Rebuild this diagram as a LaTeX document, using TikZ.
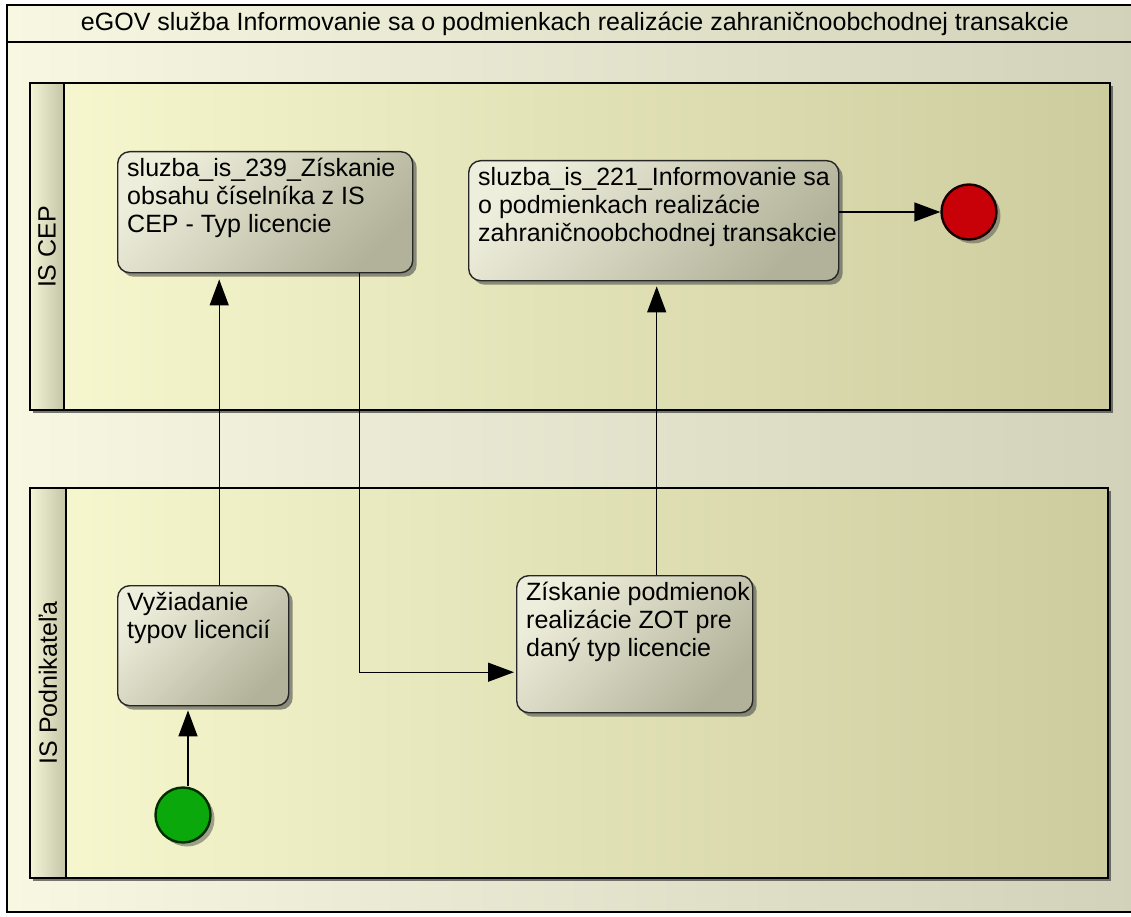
\documentclass[tikz,border=0pt]{standalone}
\usepackage{fontspec}
\setmainfont{Liberation Sans}
\usepackage{tikz}
\usetikzlibrary{arrows.meta,shadows}
\definecolor{canvasL}{HTML}{F7F7E2}
\definecolor{canvasR}{HTML}{D2D2BA}
\definecolor{poolL}{HTML}{F8F8D0}
\definecolor{poolR}{HTML}{CCCC9E}
\definecolor{bandL}{HTML}{F4F4D6}
\definecolor{bandR}{HTML}{C4C4A6}
\definecolor{taskL}{HTML}{EEEEDC}
\definecolor{taskR}{HTML}{B2B29A}
\definecolor{startG}{HTML}{0AA80A}
\definecolor{endR}{HTML}{C80008}
\tikzset{
  frame/.style={draw=black, line width=1.2pt, left color=canvasL, right color=canvasR},
  pool/.style={draw=black, line width=1.3pt, left color=poolL, right color=poolR,
    drop shadow={shadow xshift=3pt, shadow yshift=-3pt, opacity=.7, fill=black!75}},
  band/.style={draw=black, line width=1.3pt, left color=bandL, right color=bandR},
  task/.style={draw=black!85, line width=1.4pt, rounded corners=12pt, inner sep=0pt,
    top color=taskL, bottom color=taskR, shading angle=45, anchor=north west,
    drop shadow={shadow xshift=4pt, shadow yshift=-4pt, opacity=.6, fill=black!70}},
  tasktext/.style={anchor=north west, align=left, inner xsep=10pt, inner ysep=7pt,
    font=\fontsize{25}{28}\selectfont},
  lanetext/.style={rotate=90, font=\fontsize{25}{28}\selectfont},
  event/.style={circle, line width=2.4pt, minimum size=55pt, inner sep=0pt,
    drop shadow={shadow xshift=4pt, shadow yshift=-4pt, opacity=.5, fill=black!70}},
  flow/.style={draw, line width=1.4pt, -{Triangle[length=26pt,width=19pt]}},
}
\begin{document}
\begin{tikzpicture}[x=1pt,y=-1pt]
\useasboundingbox (0,0) rectangle (1131,917);
% canvas, title and lanes
\draw[frame] (7,5) rectangle (1140,912);
\draw[line width=1.2pt] (7,42) -- (1140,42);
\node[font=\fontsize{25}{28}\selectfont] (title) at (575,24) {eGOV služba Informovanie sa o podmienkach realizácie zahraničnoobchodnej transakcie};
\draw[pool] (30,83) rectangle (1110,410);
\draw[band] (30,83) rectangle (64,410);
\node[lanetext] (cepL) at (47,247) {IS CEP};
\draw[pool] (30,488) rectangle (1108,878);
\draw[band] (30,488) rectangle (66,878);
\node[lanetext] (podL) at (48,683) {IS Podnikateľa};

% tasks
\node[task, minimum width=295pt, minimum height=121pt] (getlist) at (117,151) {};
\node[tasktext] (getlistT) at (getlist.north west) {sluzba\_is\_239\_Získanie\\obsahu číselníka z IS\\CEP - Typ licencie};
\node[task, minimum width=370pt, minimum height=120pt] (inform) at (468,160) {};
\node[tasktext] (informT) at (inform.north west) {sluzba\_is\_221\_Informovanie sa\\o podmienkach realizácie\\zahraničnoobchodnej transakcie};
\node[task, minimum width=171pt, minimum height=120pt] (vreq) at (117,585) {};
\node[tasktext] (vreqT) at (vreq.north west) {Vyžiadanie\\typov licencií};
\node[task, minimum width=236pt, minimum height=137pt] (cond) at (516,575) {};
\node[tasktext] (condT) at (cond.north west) {Získanie podmienok\\realizácie ZOT pre\\daný typ licencie};

% events
\node[event, draw=black!70!green!60!black, fill=startG] (start) at (183,815) {};
\node[event, draw=black!90!red, fill=endR] (end) at (969,212) {};

% flows
\coordinate (c0) at ([xshift=5pt]start.north);
\coordinate (c1) at ([xshift=16pt]vreq.north);
\coordinate (c2) at ([xshift=94pt]getlist.south);
\coordinate (c3) at ([yshift=-28pt]cond.west);
\coordinate (c4) at ([xshift=22pt]cond.north);
\draw[flow, shorten >=4pt] (c0) -- (c0 |- vreq.south);
\draw[flow, shorten >=6pt] (c1) -- (c1 |- getlist.south);
\draw[flow, shorten >=2pt] (c2) |- (c3);
\draw[flow, shorten >=5pt] (c4) -- (c4 |- inform.south);
\draw[flow] (inform.east |- end) -- (end);
\end{tikzpicture}
\end{document}
